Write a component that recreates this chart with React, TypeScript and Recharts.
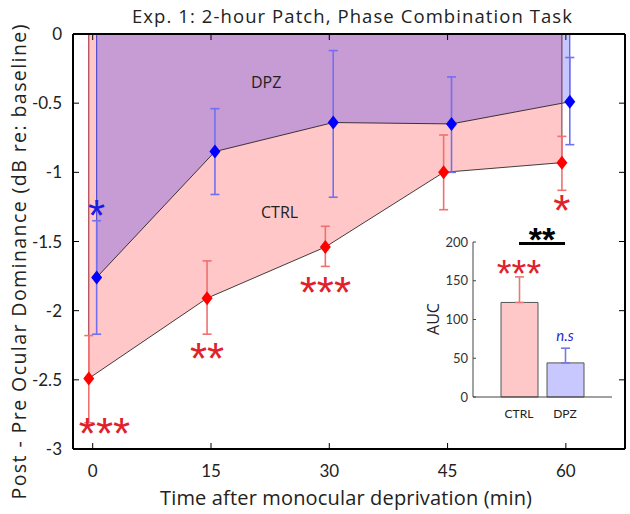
import React from "react";
import {
  ComposedChart,
  Area,
  Line,
  Scatter,
  ErrorBar,
  XAxis,
  YAxis,
  Bar,
  ReferenceLine,
} from "recharts";

// main panel data (dB re: baseline)
const timeTicks = [0, 15, 30, 45, 60];
const ctrlX = [-0.5, 14.5, 29.5, 44.5, 59.5];
const dpzX = [0.5, 15.5, 30.5, 45.5, 60.5];
const ctrlMean = [-2.49, -1.91, -1.54, -1.0, -0.93];
const ctrlUpper = [-2.18, -1.64, -1.39, -0.73, -0.74];
const ctrlLower = [-2.81, -2.17, -1.68, -1.27, -1.13];
const dpzMean = [-1.76, -0.85, -0.64, -0.65, -0.49];
const dpzUpper = [-1.35, -0.54, -0.12, -0.31, -0.17];
const dpzLower = [-2.17, -1.16, -1.18, -1.0, -0.8];
const yTicks = [0, -0.5, -1, -1.5, -2, -2.5, -3];

// significance stars
const starX = [1.5, 14.5, 29.5, 59.5, 0.5];
const starY = [-2.82, -2.28, -1.8, -1.21, -1.24];
const starText = ["***", "**", "***", "*", "*"];
const starGroup = ["CTRL", "CTRL", "CTRL", "CTRL", "DPZ"];

// region labels
const regionText = ["DPZ", "CTRL"];
const regionX = [22, 23.7];
const regionY = [-0.35, -1.29];

// inset AUC
const aucGroups = ["CTRL", "DPZ"];
const aucMean = [122, 44];
const aucUpper = [155, 63];
const aucTicks = [0, 50, 100, 150, 200];
const aucMarkText = ["***", "n.s"];
const aucMarkY = [170, 80];
const aucBracketY = 198;
const aucBracketText = "**";

const TITLE = "Exp. 1: 2-hour Patch, Phase Combination Task";
const XLABEL = "Time after monocular deprivation (min)";
const YLABEL = "Post - Pre Ocular Dominance (dB re: baseline)";

const RED = "#ff0000";
const BLUE = "#0000ff";
const FONT = "Lato, 'Open Sans', sans-serif";
const LABEL_FONT = "'Open Sans', Lato, sans-serif";
const STAR_FONT = "'Liberation Sans', Arial, sans-serif";

const ctrlPts = ctrlX.map((x, i) => ({
  x,
  y: ctrlMean[i],
  err: [ctrlMean[i] - ctrlLower[i], ctrlUpper[i] - ctrlMean[i]],
}));
const dpzPts = dpzX.map((x, i) => ({
  x,
  y: dpzMean[i],
  err: [dpzMean[i] - dpzLower[i], dpzUpper[i] - dpzMean[i]],
}));

// vertical closing edge of a shaded region (from 0 down to the point)
const edge = (xs: number[], ys: number[], i: number) => [
  { x: xs[i], y: 0 },
  { x: xs[i], y: ys[i] },
];

const stars = starX.map((x, i) => ({ x, y: starY[i], text: starText[i], group: starGroup[i] }));
const regions = regionX.map((x, i) => ({ x, y: regionY[i], text: regionText[i] }));

const aucRows = aucGroups.map((g, i) => ({
  name: g,
  [g]: aucMean[i],
  [g + "err"]: [0, aucUpper[i] - aucMean[i]],
  mark: aucMarkY[i],
  text: aucMarkText[i],
}));

const Diamond = (color: string) => (p: any) => {
  const { cx, cy } = p;
  if (cx == null || cy == null) return <g />;
  return (
    <polygon
      points={`${cx},${cy - 7} ${cx + 5.5},${cy} ${cx},${cy + 7} ${cx - 5.5},${cy}`}
      fill={color}
    />
  );
};

const StarText = (p: any) => {
  const { cx, cy, payload } = p;
  return (
    <text
      x={cx}
      y={cy + 25}
      textAnchor="middle"
      fontFamily={STAR_FONT}
      fontSize={44}
      fill={payload.group === "DPZ" ? "#1a1ae0" : "#e0202a"}
    >
      {payload.text}
    </text>
  );
};

const RegionText = (p: any) => (
  <text
    x={p.cx}
    y={p.cy}
    textAnchor="middle"
    dominantBaseline="central"
    fontFamily={LABEL_FONT}
    fontSize={16}
    fill="#222"
  >
    {p.payload.text}
  </text>
);

const AucMark = (p: any) => {
  const { cx, cy, payload } = p;
  if (cx == null || cy == null) return <g />;
  if (payload.text === "n.s") {
    return (
      <text x={cx} y={cy} textAnchor="middle" dominantBaseline="central" fontFamily={FONT}
        fontStyle="italic" fontSize={15} fill="#2a2ad0">
        {payload.text}
      </text>
    );
  }
  return (
    <text x={cx} y={cy + 22} textAnchor="middle" fontFamily={STAR_FONT} fontSize={38} fill="#e0202a">
      {payload.text}
    </text>
  );
};

const tickStyle = { fontFamily: FONT, fontSize: 17, fill: "#222" };

export default function App() {
  return (
    <div style={{ position: "relative", width: 630, height: 514, background: "#fff" }}>
      <style>{"body{margin:0}"}</style>
      <ComposedChart width={630} height={514} margin={{ top: 4, right: 4, bottom: 35, left: 13 }}>
        <XAxis
          xAxisId={0}
          dataKey="x"
          type="number"
          domain={[-2.5, 67.5]}
          ticks={timeTicks}
          allowDataOverflow
          height={30}
          tickSize={-6}
          tickMargin={22}
          axisLine={{ stroke: "#000", strokeWidth: 2 }}
          tickLine={{ stroke: "#000" }}
          tick={tickStyle}
        />
        <XAxis
          xAxisId="top"
          orientation="top"
          dataKey="x"
          type="number"
          domain={[-2.5, 67.5]}
          ticks={timeTicks}
          allowDataOverflow
          height={30}
          tickSize={-6}
          tickFormatter={() => ""}
          axisLine={{ stroke: "#000", strokeWidth: 2 }}
          tickLine={{ stroke: "#000" }}
        />
        <YAxis
          yAxisId={0}
          type="number"
          domain={[-3, 0]}
          ticks={yTicks}
          allowDataOverflow
          width={60}
          tickSize={-6}
          tickMargin={17}
          axisLine={{ stroke: "#000", strokeWidth: 2 }}
          tickLine={{ stroke: "#000" }}
          tick={tickStyle}
        />
        <YAxis
          yAxisId="right"
          orientation="right"
          type="number"
          domain={[-3, 0]}
          ticks={yTicks}
          allowDataOverflow
          width={1}
          tickSize={-6}
          tickFormatter={() => ""}
          axisLine={{ stroke: "#000", strokeWidth: 2 }}
          tickLine={{ stroke: "#000" }}
        />

        <Area
          data={ctrlPts}
          dataKey="y"
          type="linear"
          baseValue={0}
          fill={RED}
          fillOpacity={0.22}
          stroke="#111"
          strokeWidth={0.8}
          isAnimationActive={false}
        />
        <Area
          data={dpzPts}
          dataKey="y"
          type="linear"
          baseValue={0}
          fill={BLUE}
          fillOpacity={0.22}
          stroke="#111"
          strokeWidth={0.8}
          isAnimationActive={false}
        />
        <Line data={edge(ctrlX, ctrlMean, 0)} dataKey="y" stroke="#a02030" strokeWidth={1} dot={false} isAnimationActive={false} />
        <Line data={edge(ctrlX, ctrlMean, ctrlX.length - 1)} dataKey="y" stroke="#703040" strokeWidth={1} dot={false} isAnimationActive={false} />
        <Line data={edge(dpzX, dpzMean, 0)} dataKey="y" stroke="#3a3ad0" strokeWidth={1} dot={false} isAnimationActive={false} />
        <Line data={edge(dpzX, dpzMean, dpzX.length - 1)} dataKey="y" stroke="#3a3ad0" strokeWidth={1} dot={false} isAnimationActive={false} />

        <Scatter data={ctrlPts} dataKey="y" shape={Diamond(RED)} isAnimationActive={false}>
          <ErrorBar dataKey="err" direction="y" width={4.5} stroke="#f07070" strokeWidth={1.6} />
        </Scatter>
        <Scatter data={dpzPts} dataKey="y" shape={Diamond(BLUE)} isAnimationActive={false}>
          <ErrorBar dataKey="err" direction="y" width={4.5} stroke="#7070f0" strokeWidth={1.6} />
        </Scatter>
        <Scatter data={stars} dataKey="y" shape={StarText} isAnimationActive={false} />
        <Scatter data={regions} dataKey="y" shape={RegionText} isAnimationActive={false} />
      </ComposedChart>

      <svg width={630} height={514} style={{ position: "absolute", left: 0, top: 0, pointerEvents: "none" }}>
        <text x={352} y={15} textAnchor="middle" dominantBaseline="central" fontFamily={LABEL_FONT}
          fontSize={18.5} fill="#222" textLength={440} lengthAdjust="spacing">
          {TITLE}
        </text>
        <text x={346} y={497} textAnchor="middle" dominantBaseline="central" fontFamily={LABEL_FONT}
          fontSize={20} fill="#222" textLength={372} lengthAdjust="spacing">
          {XLABEL}
        </text>
        <text x={18} y={262} transform="rotate(-90 18 262)" textAnchor="middle" dominantBaseline="central"
          fontFamily={LABEL_FONT} fontSize={19.5} fill="#222" textLength={475} lengthAdjust="spacing">
          {YLABEL}
        </text>
      </svg>

      <div style={{ position: "absolute", left: 400, top: 220 }}>
        <ComposedChart width={220} height={210} data={aucRows} margin={{ top: 22, right: 8, bottom: 11, left: 33 }}>
          <XAxis
            dataKey="name"
            type="category"
            height={22}
            padding={{ left: 23, right: 24 }}
            axisLine={{ stroke: "#444" }}
            tickLine={false}
            tickMargin={6}
            tick={{ fontFamily: FONT, fontSize: 12, fill: "#222" }}
          />
          <YAxis
            type="number"
            domain={[0, 200]}
            ticks={aucTicks}
            width={40}
            tickSize={-3}
            tickMargin={8}
            axisLine={{ stroke: "#444" }}
            tickLine={{ stroke: "#444" }}
            tick={{ fontFamily: FONT, fontSize: 13, fill: "#333" }}
          />
          <Bar dataKey="CTRL" stackId="auc" barSize={37} fill="#ffc8c8" stroke="#555" isAnimationActive={false}>
            <ErrorBar dataKey="CTRLerr" direction="y" width={4.5} stroke="#e87878" strokeWidth={1.6} />
          </Bar>
          <Bar dataKey="DPZ" stackId="auc" barSize={37} fill="#c8c8ff" stroke="#555" isAnimationActive={false}>
            <ErrorBar dataKey="DPZerr" direction="y" width={4.5} stroke="#7878e0" strokeWidth={1.6} />
          </Bar>
          <Scatter dataKey="mark" shape={AucMark} isAnimationActive={false} />
          <ReferenceLine
            segment={[
              { x: aucGroups[0], y: aucBracketY },
              { x: aucGroups[1], y: aucBracketY },
            ]}
            stroke="#000"
            strokeWidth={3}
            ifOverflow="visible"
            label={({ viewBox }: any) => (
              <text x={viewBox.x + viewBox.width / 2} y={viewBox.y + 7} textAnchor="middle"
                fontFamily={STAR_FONT} fontWeight="bold" fontSize={34} fill="#000">
                {aucBracketText}
              </text>
            )}
          />
        </ComposedChart>
      </div>
      <svg width={630} height={514} style={{ position: "absolute", left: 0, top: 0, pointerEvents: "none" }}>
        <text x={433} y={319} transform="rotate(-90 433 319)" textAnchor="middle" dominantBaseline="central"
          fontFamily={LABEL_FONT} fontSize={16} fill="#222">
          AUC
        </text>
      </svg>
    </div>
  );
}
